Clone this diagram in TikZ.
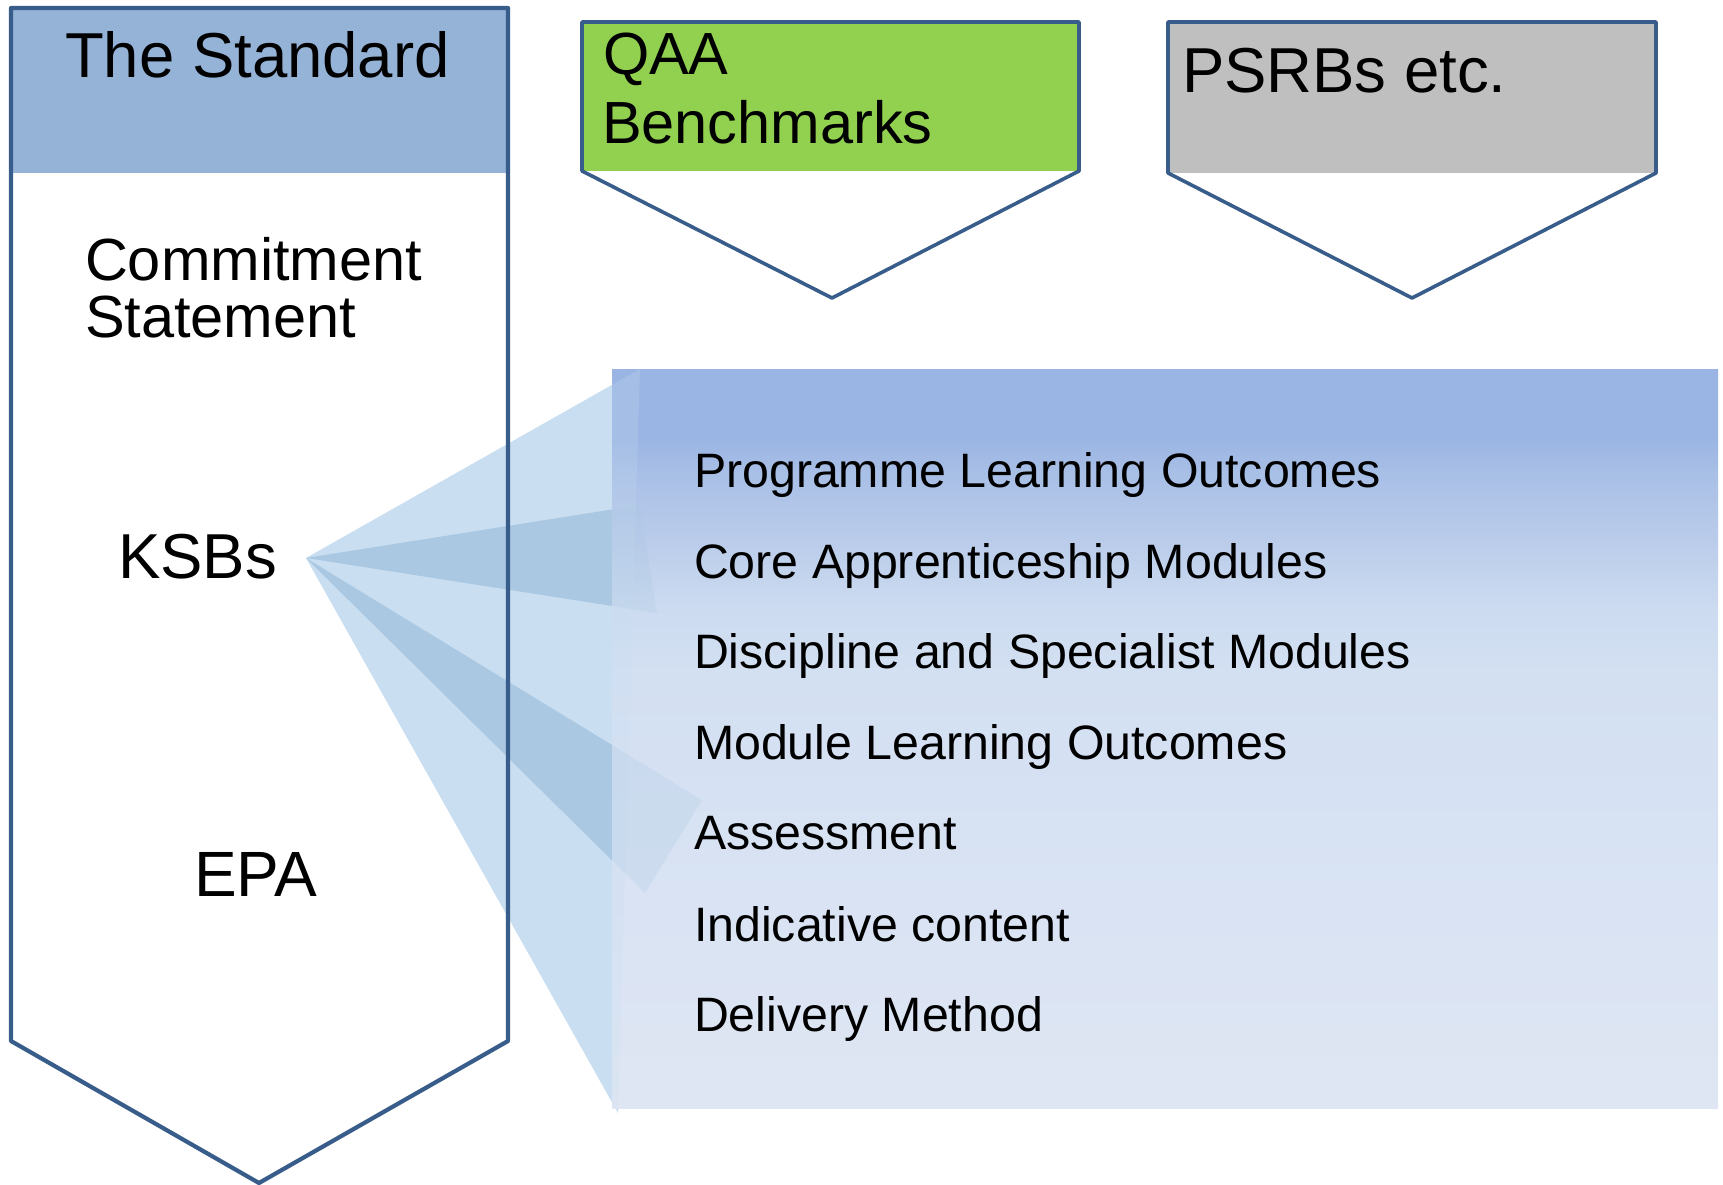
\documentclass[tikz,border=0pt]{standalone}
\usepackage{fontspec}
\setmainfont{Liberation Sans}
\definecolor{edge}{HTML}{385D8A}
\definecolor{head}{HTML}{95B3D7}
\definecolor{qaa}{HTML}{92D050}
\definecolor{psrb}{HTML}{BFBFBF}
\definecolor{fanlight}{HTML}{C9DEF1}
\definecolor{fandark}{HTML}{ABC8E3}
\definecolor{bA}{HTML}{DFE6F3}
\definecolor{bB}{HTML}{D5E1F3}
\definecolor{bC}{HTML}{D3E0F2}
\definecolor{bD}{HTML}{CCDBF0}
\definecolor{bE}{HTML}{BACCEA}
\definecolor{bF}{HTML}{A8BFE6}
\definecolor{bG}{HTML}{9AB5E3}
\pgfdeclareverticalshading{boxshade}{100bp}{color(0bp)=(bA); color(25bp)=(bA); color(48.7bp)=(bB); color(54.4bp)=(bC); color(58.9bp)=(bD); color(63.4bp)=(bE); color(68bp)=(bF); color(70.4bp)=(bG); color(75bp)=(bG); color(100bp)=(bG)}
\begin{document}
\begin{tikzpicture}[x=1pt,y=-1pt,
  lbl/.style={anchor=base west, inner sep=0pt, outer sep=0pt, text=black},
  listitem/.style={lbl, font=\fontsize{48.3}{56}\selectfont},
  chevline/.style={draw=edge, line width=4.2pt, line join=round},
  smallchev/.style={draw=edge, line width=3.6pt, line join=round}]
\useasboundingbox (0,0) rectangle (1723,1185);
% left chevron: fill
\fill[white] (11,8) -- (508,8) -- (508,1041) -- (259,1183) -- (11,1041) -- cycle;
\fill[head] (11,8) rectangle (508,173);
% fan
\coordinate (apex) at (306,558);
\coordinate (l1) at (640,369);
\coordinate (l2) at (618,1113);
\coordinate (d1a) at (640,505);
\coordinate (d1b) at (657,613);
\coordinate (d2a) at (702,800);
\coordinate (d2b) at (645,893);
\fill[fanlight] (apex) -- (l1) -- (l2) -- cycle;
\fill[fandark] (apex) -- (d1a) -- (d1b) -- cycle;
\fill[fandark] (apex) -- (d2a) -- (d2b) -- cycle;
% blue box
\shade[shading=boxshade] (612,369) rectangle (1718,1108);
\begin{scope}
  \clip (612,369) rectangle (1718,1108);
  \fill[fanlight, opacity=0.22] (apex) -- (l1) -- (l2) -- cycle;
  \fill[fandark, opacity=0.25] (apex) -- (d1a) -- (d1b) -- cycle;
  \fill[fandark, opacity=0.25] (apex) -- (d2a) -- (d2b) -- cycle;
\end{scope}
% left chevron outline
\draw[chevline] (11,8) -- (508,8) -- (508,1041) -- (259,1183) -- (11,1041) -- cycle;
% QAA chevron
\fill[qaa] (582,22) rectangle (1079,171);
\draw[smallchev] (582,22) -- (1079,22) -- (1079,171) -- (832,298) -- (582,171) -- cycle;
% PSRB chevron
\fill[psrb] (1168,22) rectangle (1656,173);
\draw[smallchev] (1168,22) -- (1656,22) -- (1656,173) -- (1412,298) -- (1168,173) -- cycle;
% texts left
\node[lbl, font=\fontsize{63.5}{70}\selectfont] (std) at (65,78) {The Standard};
\node[lbl, font=\fontsize{59.5}{57}\selectfont] (cs1) at (85,280) {Commitment};
\node[lbl, font=\fontsize{59.5}{57}\selectfont] (cs2) at (85,337) {Statement};
\node[lbl, font=\fontsize{63.5}{70}\selectfont] (ksb) at (118,578) {KSBs};
\node[lbl, font=\fontsize{64}{70}\selectfont] (epa) at (194,896) {EPA};
% top chevron texts
\node[lbl, font=\fontsize{59.5}{69}\selectfont] (qaa1) at (603,75) {QAA};
\node[lbl, font=\fontsize{59.5}{69}\selectfont] (qaa2) at (602,144) {Benchmarks};
\node[lbl, font=\fontsize{63.5}{70}\selectfont] (psrbt) at (1182,93) {PSRBs etc.};
% list
\node[listitem] (i1) at (694,487) {Programme Learning Outcomes};
\node[listitem] (i2) at (694,578) {Core Apprenticeship Modules};
\node[listitem] (i3) at (694,668) {Discipline and Specialist Modules};
\node[listitem] (i4) at (694,759) {Module Learning Outcomes};
\node[listitem] (i5) at (694,849) {Assessment};
\node[listitem] (i6) at (694,941) {Indicative content};
\node[listitem] (i7) at (694,1031) {Delivery Method};
\end{tikzpicture}
\end{document}
